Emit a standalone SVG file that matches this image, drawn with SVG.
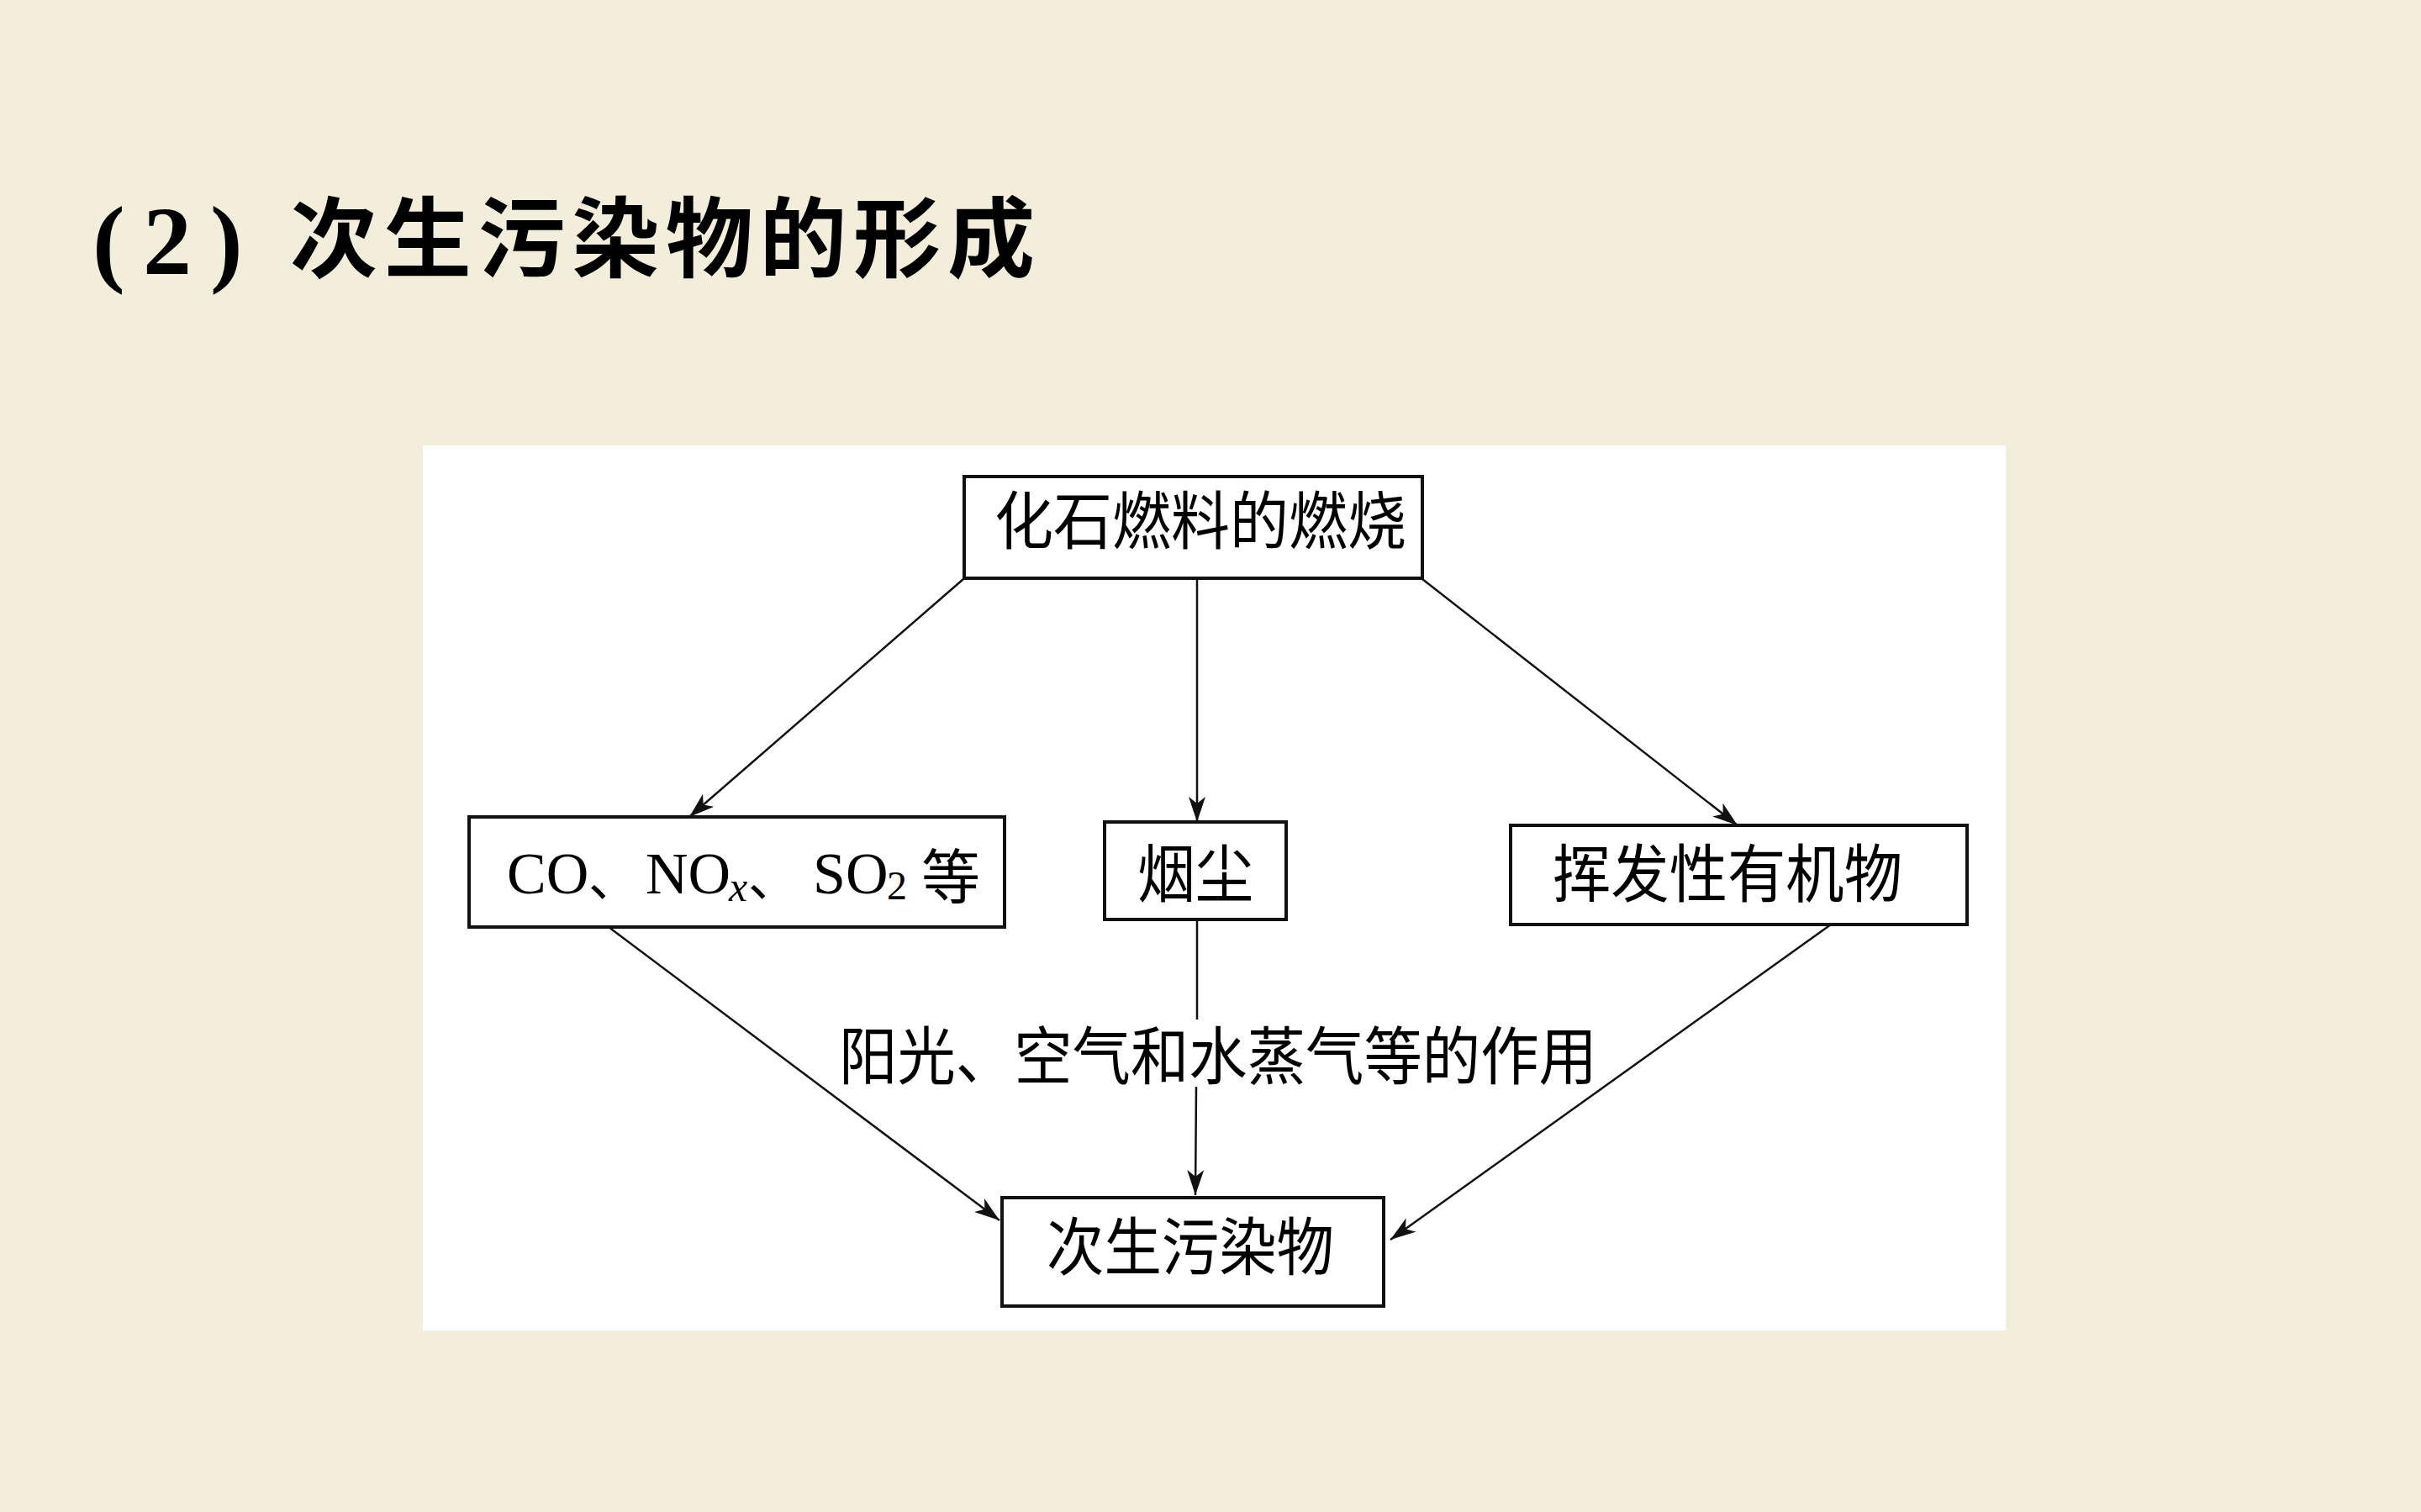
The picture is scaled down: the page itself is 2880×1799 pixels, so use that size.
<svg xmlns="http://www.w3.org/2000/svg" width="2880" height="1799" viewBox="0 0 2880 1799">
<defs>
<style>
.cjk{font-family:"Noto Sans CJK SC","Noto Sans",sans-serif;fill:#000;}
.ser{font-family:"Liberation Serif","Noto Sans CJK SC",serif;fill:#000;}
.box{fill:#fff;stroke:#111;stroke-width:4;}
.con{stroke:#111;stroke-width:2.5;fill:none;}
</style>
<marker id="arr" markerUnits="userSpaceOnUse" markerWidth="34" markerHeight="22" refX="30" refY="10" orient="auto">
<path d="M0,0 L30,10 L0,20 L8,10 z" fill="#111"/>
</marker>
</defs>
<rect x="0" y="0" width="2880" height="1799" fill="#F2EEDB"/>
<g id="title">
<text class="ser" font-weight="bold" font-size="116" y="326"><tspan x="110">(</tspan><tspan x="170">2</tspan><tspan x="250">)</tspan></text>
<text class="cjk" font-weight="bold" font-size="104" x="345" y="322" textLength="886" lengthAdjust="spacing">次生污染物的形成</text>
</g>
<rect id="panel" x="503" y="530" width="1883" height="1053" fill="#fff"/>
<g id="connectors">
<line class="con" x1="1146" y1="689" x2="820" y2="972" marker-end="url(#arr)"/>
<line class="con" x1="1424" y1="689" x2="1424" y2="978" marker-end="url(#arr)"/>
<line class="con" x1="1692" y1="689" x2="2067" y2="982" marker-end="url(#arr)"/>
<line class="con" x1="724" y1="1103" x2="1189" y2="1452" marker-end="url(#arr)"/>
<line class="con" x1="1424" y1="1094" x2="1424" y2="1213"/>
<line class="con" x1="1423" y1="1293" x2="1422" y2="1422" marker-end="url(#arr)"/>
<line class="con" x1="2178" y1="1100" x2="1654" y2="1475" marker-end="url(#arr)"/>
<text id="label" class="cjk" font-size="75" x="998" y="1284" textLength="902" lengthAdjust="spacingAndGlyphs">阳光、空气和水蒸气等的作用</text>
</g>
<g id="node-top">
<rect class="box" x="1147" y="567" width="545" height="121"/>
<text class="cjk" font-size="75" x="1183" y="647" textLength="490" lengthAdjust="spacingAndGlyphs">化石燃料的燃烧</text>
</g>
<g id="node-left">
<rect class="box" x="558" y="972" width="637" height="131"/>
<text class="ser" font-size="70" y="1063"><tspan x="603">CO</tspan><tspan class="cjk" font-size="60" x="700" y="1066">、</tspan><tspan x="768" y="1063">NO</tspan><tspan font-style="italic" font-size="50" x="867" y="1072">x</tspan><tspan class="cjk" font-size="60" x="890" y="1066">、</tspan><tspan x="967" y="1063">SO</tspan><tspan font-size="48" x="1055" y="1070">2</tspan><tspan class="cjk" font-size="70" x="1096" y="1069">等</tspan></text>
</g>
<g id="node-mid">
<rect class="box" x="1314" y="978" width="216" height="116"/>
<text class="cjk" font-size="75" x="1353" y="1067" textLength="138" lengthAdjust="spacingAndGlyphs">烟尘</text>
</g>
<g id="node-right">
<rect class="box" x="1797" y="982" width="543" height="118"/>
<text class="cjk" font-size="75" x="1847" y="1067" textLength="416" lengthAdjust="spacingAndGlyphs">挥发性有机物</text>
</g>
<g id="node-bottom">
<rect class="box" x="1192" y="1425" width="454" height="129"/>
<text class="cjk" font-size="75" x="1245" y="1511" textLength="342" lengthAdjust="spacingAndGlyphs">次生污染物</text>
</g>
</svg>
